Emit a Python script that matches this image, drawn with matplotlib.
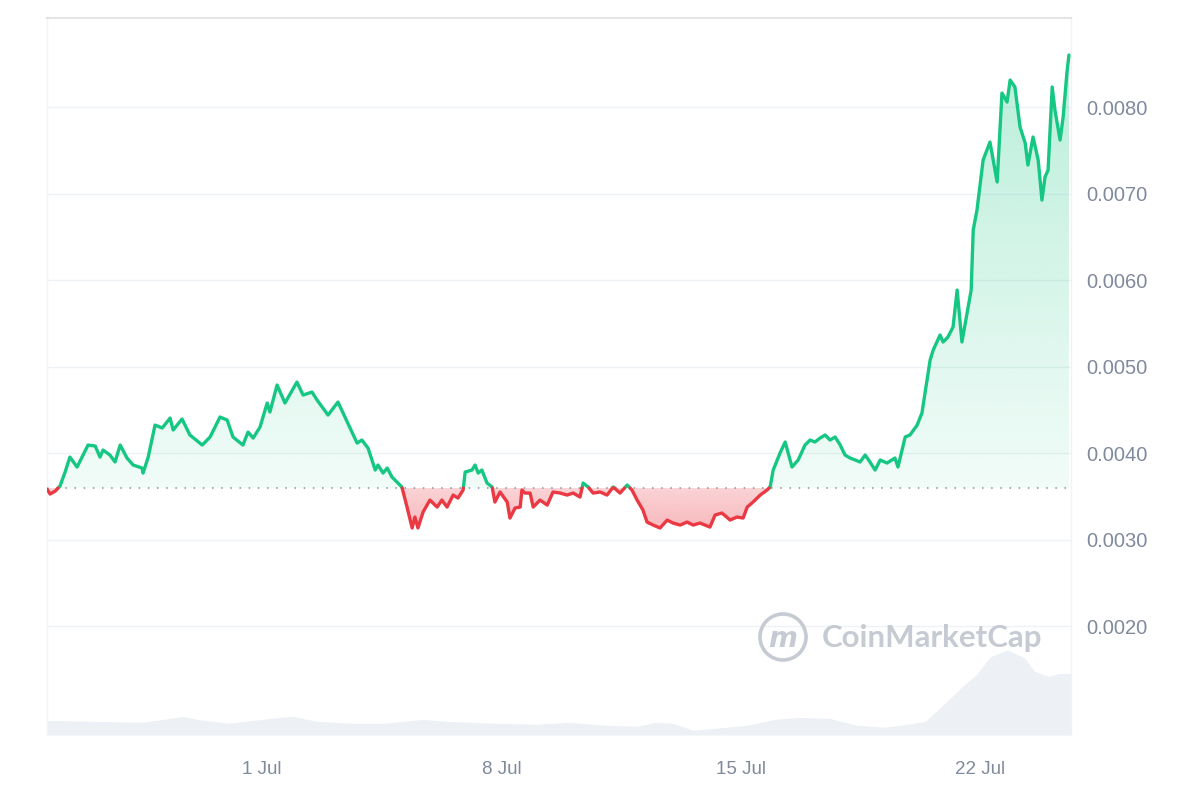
import numpy as np
import matplotlib
matplotlib.use("Agg")
import matplotlib.pyplot as plt
from matplotlib.path import Path
from matplotlib.patches import Ellipse
from matplotlib.colors import to_rgb

# ---------------- data ----------------
# time in days relative to 1 Jul 00:00
days = [-6.29, -6.20, -6.05, -5.91, -5.76, -5.62, -5.41, -5.09, -4.88, -4.74,
        -4.65, -4.45, -4.30, -4.15, -3.95, -3.77, -3.51, -3.48, -3.33, -3.13,
        -2.92, -2.69, -2.60, -2.34, -2.11, -1.75, -1.52, -1.23, -1.02, -0.85,
        -0.56, -0.41, -0.26, -0.06, 0.15, 0.23, 0.44, 0.67, 1.02, 1.20,
        1.46, 1.61, 1.93, 2.22, 2.37, 2.78, 2.92, 3.10, 3.31, 3.39,
        3.54, 3.66, 3.80, 4.09, 4.24, 4.39, 4.47, 4.56, 4.71, 4.91,
        5.12, 5.26, 5.41, 5.59, 5.73, 5.88, 5.94, 6.14, 6.23, 6.32,
        6.43, 6.58, 6.73, 6.81, 6.96, 7.17, 7.25, 7.40, 7.55, 7.60,
        7.69, 7.84, 7.93, 8.13, 8.34, 8.51, 8.72, 8.92, 9.10, 9.30,
        9.39, 9.54, 9.68, 9.89, 10.09, 10.27, 10.47, 10.68, 10.82, 10.97,
        11.14, 11.26, 11.44, 11.64, 11.85, 12.02, 12.23, 12.43, 12.61, 12.81,
        13.10, 13.25, 13.45, 13.69, 13.89, 14.07, 14.19, 14.36, 14.57, 14.77,
        14.86, 14.95, 15.15, 15.30, 15.50, 15.68, 15.88, 16.03, 16.17, 16.32,
        16.47, 16.61, 16.76, 16.91, 17.05, 17.20, 17.35, 17.49, 17.64, 17.78,
        17.93, 18.08, 18.28, 18.51, 18.60, 18.81, 18.95, 19.16, 19.30, 19.39,
        19.54, 19.63, 19.83, 19.92, 20.06, 20.21, 20.33, 20.47, 20.65, 20.74,
        20.80, 20.91, 21.09, 21.29, 21.50, 21.64, 21.79, 21.88, 22.02, 22.17,
        22.32, 22.40, 22.55, 22.70, 22.81, 22.90, 22.99, 23.11, 23.19, 23.34,
        23.43, 23.54, 23.60]

price = [0.003588, 0.003531, 0.003565, 0.003623, 0.003785, 0.003958, 0.003843, 0.004097, 0.004086, 0.003958,
         0.004039, 0.003982, 0.003901, 0.004097, 0.003947, 0.003866, 0.003831, 0.003773, 0.003958, 0.004328,
         0.004294, 0.004409, 0.004271, 0.004398, 0.004213, 0.004097, 0.004190, 0.004421, 0.004386, 0.004190,
         0.004097, 0.004247, 0.004178, 0.004305, 0.004583, 0.004479, 0.004791, 0.004583, 0.004825, 0.004675,
         0.004710, 0.004617, 0.004444, 0.004594, 0.004467, 0.004120, 0.004155, 0.004062, 0.003808, 0.003866,
         0.003773, 0.003831, 0.003727, 0.003612, 0.003380, 0.003138, 0.003265, 0.003138, 0.003323, 0.003461,
         0.003380, 0.003461, 0.003380, 0.003519, 0.003484, 0.003577, 0.003785, 0.003808, 0.003866, 0.003773,
         0.003808, 0.003658, 0.003612, 0.003438, 0.003554, 0.003438, 0.003253, 0.003369, 0.003380, 0.003577,
         0.003542, 0.003542, 0.003380, 0.003461, 0.003403, 0.003554, 0.003542, 0.003519, 0.003542, 0.003496,
         0.003658, 0.003612, 0.003542, 0.003554, 0.003519, 0.003612, 0.003542, 0.003635, 0.003577, 0.003461,
         0.003346, 0.003207, 0.003172, 0.003138, 0.003230, 0.003195, 0.003172, 0.003207, 0.003172, 0.003195,
         0.003149, 0.003288, 0.003311, 0.003230, 0.003265, 0.003253, 0.003380, 0.003438, 0.003519, 0.003577,
         0.003612, 0.003808, 0.004005, 0.004132, 0.003843, 0.003924, 0.004097, 0.004155, 0.004132, 0.004178,
         0.004213, 0.004155, 0.004190, 0.004097, 0.003982, 0.003947, 0.003924, 0.003901, 0.003982, 0.003901,
         0.003808, 0.003924, 0.003889, 0.003947, 0.003843, 0.004190, 0.004213, 0.004328, 0.004467, 0.004698,
         0.005080, 0.005195, 0.005369, 0.005288, 0.005346, 0.005461, 0.005889, 0.005288, 0.005692, 0.005889,
         0.006583, 0.006814, 0.007392, 0.007600, 0.007138, 0.008166, 0.008062, 0.008317, 0.008236, 0.007773,
         0.007588, 0.007334, 0.007658, 0.007392, 0.006929, 0.007195, 0.007276, 0.008236, 0.007970, 0.007623,
         0.007889, 0.008398, 0.008606]

baseline = 0.0036

vol_days = [-6.29, -5.0, -3.5, -2.3, -1.9, -1.0, 0.5, 0.9, 1.6, 2.6,
            3.6, 4.7, 5.4, 6.8, 8.0, 9.0, 10.0, 11.0, 11.5, 12.0,
            12.6, 13.3, 14.2, 15.0, 15.7, 16.6, 17.4, 18.2, 18.9, 19.4,
            19.9, 20.5, 20.9, 21.3, 21.8, 22.3, 22.6, 23.0, 23.3, 23.66]
volume = [15, 14, 13, 19, 16, 12, 18, 19, 14, 12,
          12, 16, 14, 12, 11, 13, 10, 9, 13, 12,
          5, 7, 10, 16, 18, 17, 10, 8, 11, 14,
          30, 50, 62, 80, 87, 79, 65, 60, 63, 63]

y_ticks = [0.002, 0.003, 0.004, 0.005, 0.006, 0.007, 0.008]
y_tick_labels = ["0.0020", "0.0030", "0.0040", "0.0050", "0.0060", "0.0070", "0.0080"]
x_ticks = [0, 7, 14, 21]
x_tick_labels = ["1 Jul", "8 Jul", "15 Jul", "22 Jul"]

x_range = (-6.29, 23.66)
y_range = (0.000745, 0.009034)

# ---------------- style ----------------
GREEN = "#16c784"
RED = "#ea3943"
TXT = "#808a9d"
GRID = "#eff2f5"
VOLC = "#edf0f4"
plt.rcParams["font.family"] = ["Liberation Sans", "DejaVu Sans"]

fig = plt.figure(figsize=(12, 8), dpi=100)
ax_v = fig.add_axes([47 / 1200, 1 - 735 / 800, (1071 - 47) / 1200, (735 - 18) / 800])
ax = fig.add_axes(ax_v.get_position(), sharex=ax_v)
ax.patch.set_alpha(0)

# volume
ax_v.fill_between(vol_days, volume, 0, color=VOLC, lw=0)
ax_v.set_ylim(0, max(volume) * 8.43)
ax_v.set_xlim(*x_range)
ax_v.axis("off")

# insert baseline crossings
x = np.array(days, dtype=float)
y = np.array(price, dtype=float)
xs, ys = [x[0]], [y[0]]
for i in range(1, len(x)):
    a, b = y[i - 1] - baseline, y[i] - baseline
    if a * b < 0:
        t = a / (a - b)
        xs.append(x[i - 1] + t * (x[i] - x[i - 1]))
        ys.append(baseline)
    xs.append(x[i]); ys.append(y[i])
xs = np.array(xs); ys = np.array(ys)

def gradient_fill(mask_up, color, a0, a1, y0, y1):
    where = ys >= baseline if mask_up else ys <= baseline
    poly = ax.fill_between(xs, ys, baseline, where=where, facecolor="none", edgecolor="none")
    paths = poly.get_paths()
    if not paths:
        return
    comp = Path.make_compound_path(*paths)
    n = 256
    rgba = np.zeros((n, 1, 4))
    rgba[:, 0, :3] = to_rgb(color)
    rgba[:, 0, 3] = np.linspace(a0, a1, n)
    im = ax.imshow(rgba, extent=[x_range[0], x_range[1], y0, y1], origin="lower",
                   aspect="auto", zorder=1, interpolation="bilinear")
    im.set_clip_path(comp, transform=ax.transData)

gradient_fill(True, GREEN, 0.06, 0.30, baseline, 0.0087)
gradient_fill(False, RED, 0.36, 0.22, 0.0031, baseline)

# line segments
g = np.where(ys >= baseline, ys, np.nan)
r = np.where(ys <= baseline, ys, np.nan)
ax.plot(xs, g, color=GREEN, lw=2.4, zorder=3, solid_joinstyle="round", solid_capstyle="round")
ax.plot(xs, r, color=RED, lw=2.4, zorder=3, solid_joinstyle="round", solid_capstyle="round")

ax.axhline(baseline, color="#8a8f98", lw=1.1, ls=(0, (1, 5)), zorder=2)

ax.set_xlim(*x_range)
ax.set_ylim(*y_range)
ax.set_yticks(y_ticks)
ax.set_yticklabels(y_tick_labels)
ax.set_xticks(x_ticks)
ax.set_xticklabels(x_tick_labels)
ax.yaxis.tick_right()
ax.tick_params(axis="y", length=0, pad=11, labelsize=14.5, labelcolor=TXT)
ax.tick_params(axis="x", length=0, pad=19, labelsize=13.5, labelcolor=TXT)
ax.grid(axis="y", color=GRID, lw=1, zorder=0)
ax.set_axisbelow(True)
for s in ["left", "right"]:
    ax.spines[s].set_color("#f1f2f4")
    ax.spines[s].set_linewidth(1)
ax.spines["top"].set_color("#e3e4e6")
ax.spines["top"].set_linewidth(1.5)
ax.spines["bottom"].set_visible(False)

# watermark
wm = "#c6cad2"
ring = Ellipse((783 / 1200, 1 - 637 / 800), 46 / 1200, 46 / 800, transform=fig.transFigure,
               fill=False, ec=wm, lw=2.6, zorder=5)
fig.patches.append(ring)
fig.text(783 / 1200, 1 - 639 / 800, "m", color=wm, fontsize=20, ha="center", va="center",
         fontstyle="italic", fontweight="bold", family="DejaVu Sans")
fig.text(822 / 1200, 1 - 638 / 800, "CoinMarketCap", color=wm, fontsize=22.5,
         ha="left", va="center", family="Lato", fontweight="bold")

fig.savefig("out.png", dpi=100, facecolor="white")
